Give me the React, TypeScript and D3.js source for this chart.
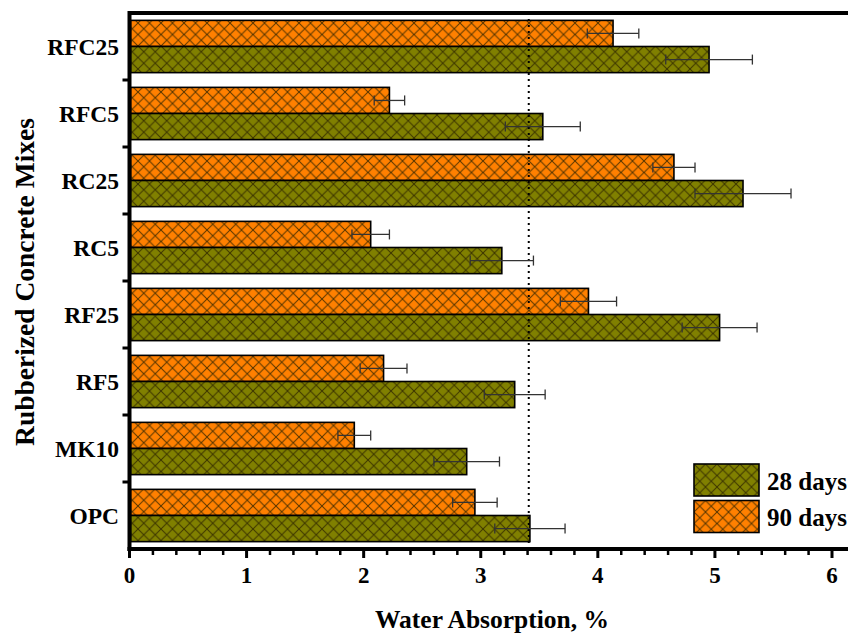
import React from "react";
import * as d3 from "d3";

const categories = ["RFC25", "RFC5", "RC25", "RC5", "RF25", "RF5", "MK10", "OPC"];
const days90 = [4.13, 2.22, 4.65, 2.06, 3.92, 2.17, 1.92, 2.95];
const err90 = [0.22, 0.13, 0.18, 0.16, 0.24, 0.2, 0.14, 0.19];
const days28 = [4.95, 3.53, 5.24, 3.18, 5.04, 3.29, 2.88, 3.42];
const err28 = [0.37, 0.32, 0.41, 0.27, 0.32, 0.26, 0.28, 0.3];
const series = ["90 days", "28 days"];
const legendLabels = ["28 days", "90 days"];
const refLine = 3.41;
const xTicks = [0, 1, 2, 3, 4, 5, 6];

const W = 848;
const H = 637;
const left = 129.5;
const top = 13;
const bottom = 549;
const FONT = "'Liberation Serif', 'DejaVu Serif', serif";

export default function App() {
  const x = d3.scaleLinear().domain([0, 6]).range([left, 832]);
  const y = d3.scaleBand().domain(categories).range([top, bottom]).paddingInner(0.22).paddingOuter(0.11);
  const y0 = d3.scaleBand().domain(categories).range([top, bottom]);
  const sub = d3.scaleBand().domain(series).range([0, y.bandwidth()]);
  const colors: Record<string, string> = { "90 days": "#FF8000", "28 days": "#808000" };
  const minor = d3.range(0, 6.21, 0.2).filter((v) => Math.abs(v - Math.round(v)) > 1e-6);
  const rows = categories.map((c, i) => [
    { s: "90 days", v: days90[i], e: err90[i], c },
    { s: "28 days", v: days28[i], e: err28[i], c },
  ]);
  const P = 11.5;
  const pat = (id: string, col: string) => (
    <pattern id={id} patternUnits="userSpaceOnUse" width={P} height={P} x={0} y={0}>
      <rect width={P} height={P} fill={col} />
      <path d={`M0,0L${P},${P}M${P},0L0,${P}`} stroke="#2a2200" strokeOpacity={0.8} strokeWidth={1} />
    </pattern>
  );
  return (
    <svg width={W} height={H} style={{ position: "absolute", left: 0, top: 0, background: "#fff" }} fontFamily={FONT}>
      <defs>
        {pat("p90", colors["90 days"])}
        {pat("p28", colors["28 days"])}
      </defs>
      {rows.flat().map((d, k) => {
        const yy = (y(d.c) as number) + (sub(d.s) as number);
        const h = sub.bandwidth();
        return (
          <rect key={k} x={x(0) + 1} y={yy} width={x(d.v) - x(0) - 1} height={h}
            fill={d.s === "90 days" ? "url(#p90)" : "url(#p28)"} stroke="#000" strokeWidth={1.6} />
        );
      })}
      <line x1={x(refLine)} x2={x(refLine)} y1={top} y2={bottom} stroke="#000" strokeWidth={2} strokeDasharray="2,4" />
      {rows.flat().map((d, k) => {
        const cy = (y(d.c) as number) + (sub(d.s) as number) + sub.bandwidth() / 2;
        return (
          <g key={k} stroke="#333" strokeWidth={1.3}>
            <line x1={x(d.v - d.e)} x2={x(d.v + d.e)} y1={cy} y2={cy} />
            <line x1={x(d.v - d.e)} x2={x(d.v - d.e)} y1={cy - 5} y2={cy + 5} />
            <line x1={x(d.v + d.e)} x2={x(d.v + d.e)} y1={cy - 5} y2={cy + 5} />
          </g>
        );
      })}
      {/* frame */}
      <line x1={left} x2={W} y1={top} y2={top} stroke="#000" strokeWidth={4} />
      <line x1={left} x2={left} y1={top - 2} y2={bottom + 2} stroke="#000" strokeWidth={4} />
      <line x1={left - 2} x2={W} y1={bottom} y2={bottom} stroke="#000" strokeWidth={4} />
      {/* y ticks at group boundaries */}
      {categories.slice(1).map((c) => (
        <line key={c} x1={left - 7} x2={left} y1={y0(c)} y2={y0(c)} stroke="#000" strokeWidth={3} />
      ))}
      {categories.map((c) => (
        <text key={c} x={119} y={(y0(c) as number) + y0.bandwidth() / 2} textAnchor="end" dominantBaseline="central"
          fontSize={23.5} fontWeight="bold">{c}</text>
      ))}
      {/* x ticks */}
      {xTicks.map((t) => (
        <g key={t}>
          <line x1={x(t)} x2={x(t)} y1={bottom} y2={bottom + 9} stroke="#000" strokeWidth={3} />
          <text x={x(t)} y={583} textAnchor="middle" fontSize={23} fontWeight="bold">{t}</text>
        </g>
      ))}
      {minor.map((t) => (
        <line key={t} x1={x(t)} x2={x(t)} y1={bottom} y2={bottom + 6} stroke="#000" strokeWidth={2.5} />
      ))}
      <text x={492} y={628} textAnchor="middle" fontSize={25.5} fontWeight="bold">Water Absorption, %</text>
      <text transform="translate(34,282) rotate(-90)" textAnchor="middle" fontSize={27.5} fontWeight="bold">Rubberized Concrete Mixes</text>
      {/* legend */}
      {legendLabels.map((l, i) => (
        <g key={l} transform={`translate(694,${464 + i * 36.5})`}>
          <rect width={65} height={32} fill={l === "90 days" ? "url(#p90)" : "url(#p28)"} stroke="#000" strokeWidth={1.6} />
          <text x={73} y={17} dominantBaseline="central" fontSize={25} fontWeight="bold">{l}</text>
        </g>
      ))}
    </svg>
  );
}
